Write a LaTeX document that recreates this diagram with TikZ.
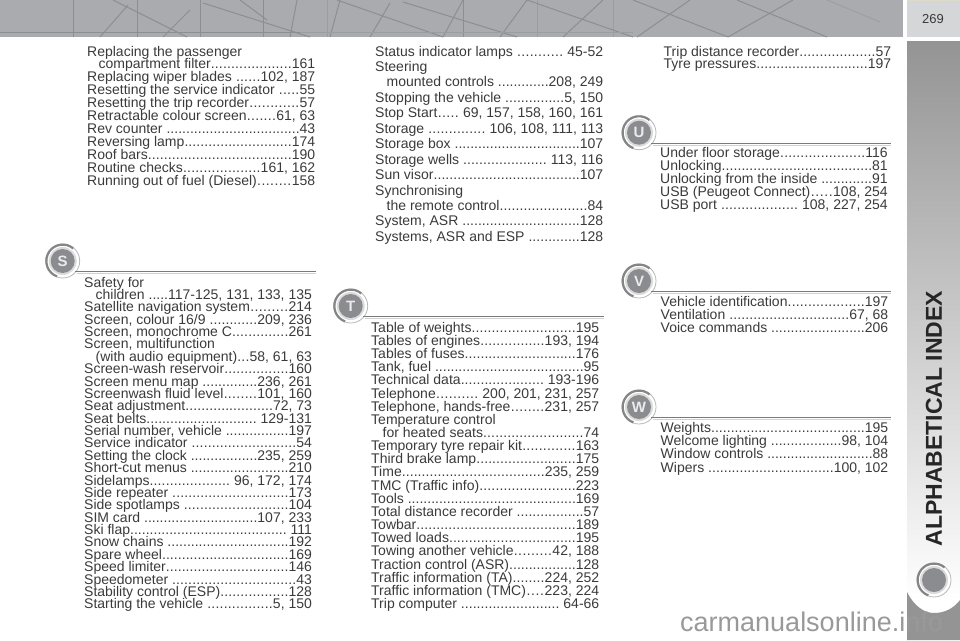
\documentclass[tikz,border=0pt]{standalone}
\usepackage{fontspec}
\setmainfont{Liberation Sans}
\usepackage{xcolor}
\definecolor{bandgray}{HTML}{A9ABAE}
\definecolor{linegray}{HTML}{8C8E91}
\definecolor{tabgray}{HTML}{D5D6D8}
\definecolor{diskgray}{HTML}{8B8C8F}
\definecolor{inkgray}{HTML}{3A3A3A}
\tikzset{
  entrytext/.style={anchor=base west,inner sep=0pt,text=inkgray,font=\fontsize{14}{14}\selectfont},
  badgedisk/.style={circle,fill=diskgray,minimum size=24pt,inner sep=0pt,text=black!8,font=\fontsize{15}{15}\selectfont\bfseries},
  bandline/.style={linegray,line width=1pt},
  faintline/.style={bandgray!50!linegray,line width=0.8pt},
  indexrule/.style={line width=1.5pt,black!52}
}
\newcommand{\ii}{\hspace*{11.5pt}}
\newcommand{\dotrun}{\xleaders\hbox to 3.9pt{\hss.\hss}\hfill}
\newcommand{\indexcol}[6]{
  \foreach \t/\p [count=\k] [evaluate=\k as \y using #4+#5*(\k-1)+5] in {#6}
  {
    \ifx\p\empty
      \node[entrytext] (#1\k) at (#2,\y) {\t};
    \else
      \pgfmathsetmacro{\w}{#3-#2}
      \node[entrytext] (#1\k) at (#2,\y) {\makebox[\w pt][l]{\t\dotrun\p}};
    \fi
  }
}
\newcommand{\badge}[4]{
  \fill[white] (#2,#3) circle (17);
  \draw[black!28,line width=0.8pt] (#2,#3) circle (17);
  \draw[black!48,line width=2.2pt] (#2,#3) ++(-50:16.4) arc[start angle=-50,end angle=-250,radius=16.4];
  \fill[black!14] (#2,#3) circle (14);
  \node[badgedisk] (badge#1) at (#2,#3) {#4};
}
\begin{document}
\begin{tikzpicture}[x=1pt,y=-1pt]
  \useasboundingbox (0,0) rectangle (960,640);

  \fill[bandgray] (0,0) rectangle (903,37);
  \foreach \x in {73,137,200,263,463}
    \draw[bandline] (\x,0) -- (\x,37);
  \foreach \x in {327,537,613}
    \draw[faintline] (\x,0) -- (\x,37);
  \foreach \a/\b/\c/\d in {128/5/100/37,190/10/163/37,113/0/187/37,203/3/310/37,240/0/267/20,
    297/0/290/37,340/0/330/37,390/3/370/37,337/0/443/37,403/2/517/37,463/0/443/37,527/0/500/37,
    527/0/633/37,603/0/563/37,633/0/728/37,690/0/637/37,737/0/827/37,793/0/728/37}
    \draw[bandline] (\a,\b) -- (\c,\d);
  \draw[faintline] (827,0) -- (880,22);
  \draw[bandline] (0,32) -- (300,32);
  \draw[faintline] (300,32) -- (633,32);

  \fill[tabgray] (907,0) rectangle (960,37);
  \fill[black!10!yellow!10!tabgray] (907,0) rectangle (960,1);
  \node[inner sep=0pt,text=inkgray,font=\fontsize{13}{13}\selectfont] (pageno) at (933,19) {269};

  \shade[top color=black!42,middle color=black!27,bottom color=white] (907,41) rectangle (960,600);
  \fill[black!42] (907,640) -- (907,592) .. controls (914,606) and (924,613) .. (934,613)
    .. controls (945,613) and (954,608) .. (960,600) -- (960,640) -- cycle;
  \node[rotate=90,inner sep=0pt,text=black!85,font=\fontsize{23}{23}\selectfont\bfseries] (sidetitle) at (934,418.5) {ALPHABETICAL INDEX};
  \badge{end}{934}{580}{}

  \foreach \l/\x/\y/\e in {S/62.7/261/315.5,T/350.7/306/603.5,U/639/132.7/891,V/639/281/891,W/639/407/891}
  {
    \badge{\l}{\x}{\y}{\l}
    \coordinate (end\l) at (\e,\y+10.7);
    \draw[indexrule] (\x+12,\y+10.7) -- (end\l);
    \draw[black!18,line width=0.6pt] (\x+14,\y+12.2) -- (\e,\y+12.2);
  }

  \indexcol{r}{87}{315}{51}{12.9}{
    {Replacing the passenger}/,
    {\ii compartment filter}/161,
    {Replacing wiper blades\ }/{102, 187},
    {Resetting the service indicator\ }/55,
    {Resetting the trip recorder}/57,
    {Retractable colour screen}/{61, 63},
    {Rev counter\ }/43,
    {Reversing lamp}/174,
    {Roof bars}/190,
    {Routine checks}/{161, 162},
    {Running out of fuel (Diesel)}/158}

  \indexcol{s}{84}{311.7}{282}{12.38}{
    {Safety for}/,
    {\ii children\ }/{117-125, 131, 133, 135},
    {Satellite navigation system}/214,
    {Screen, colour 16/9\ }/{209, 236},
    {Screen, monochrome C}/261,
    {Screen, multifunction}/,
    {\ii (with audio equipment)}/{58, 61, 63},
    {Screen-wash reservoir}/160,
    {Screen menu map\ }/{236, 261},
    {Screenwash fluid level}/{101, 160},
    {Seat adjustment}/{72, 73},
    {Seat belts}/{\ 129-131},
    {Serial number, vehicle\ }/197,
    {Service indicator\ }/54,
    {Setting the clock\ }/{235, 259},
    {Short-cut menus\ }/210,
    {Sidelamps}/{\ 96, 172, 174},
    {Side repeater\ }/173,
    {Side spotlamps\ }/104,
    {SIM card\ }/{107, 233},
    {Ski flap}/{\ 111},
    {Snow chains\ }/192,
    {Spare wheel}/169,
    {Speed limiter}/146,
    {Speedometer\ }/43,
    {Stability control (ESP)}/128,
    {Starting the vehicle\ }/{5, 150}}

  \indexcol{st}{375}{603}{51}{15.45}{
    {Status indicator lamps\ }/{\ 45-52},
    {Steering}/,
    {\ii mounted controls\ }/{208, 249},
    {Stopping the vehicle\ }/{5, 150},
    {Stop Start}/{\ 69, 157, 158, 160, 161},
    {Storage\ }/{\ 106, 108, 111, 113},
    {Storage box\ }/107,
    {Storage wells\ }/{\ 113, 116},
    {Sun visor}/107,
    {Synchronising}/,
    {\ii the remote control}/84,
    {System, ASR\ }/128,
    {Systems, ASR and ESP\ }/128}

  \indexcol{t}{371}{599}{327.3}{13.15}{
    {Table of weights}/195,
    {Tables of engines}/{193, 194},
    {Tables of fuses}/176,
    {Tank, fuel\ }/95,
    {Technical data}/{\ 193-196},
    {Telephone}/{\ 200, 201, 231, 257},
    {Telephone, hands-free}/{231, 257},
    {Temperature control}/,
    {\ii for heated seats}/74,
    {Temporary tyre repair kit}/163,
    {Third brake lamp}/175,
    {Time}/{235, 259},
    {TMC (Traffic info)}/223,
    {Tools\ }/169,
    {Total distance recorder\ }/57,
    {Towbar}/189,
    {Towed loads}/195,
    {Towing another vehicle}/{42, 188},
    {Traction control (ASR)}/128,
    {Traffic information (TA)}/{224, 252},
    {Traffic information (TMC)}/{223, 224},
    {Trip computer\ }/{\ 64-66}}

  \indexcol{tr}{663.5}{891}{51}{12.8}{
    {Trip distance recorder}/57,
    {Tyre pressures}/197}

  \indexcol{u}{660}{887.5}{152.7}{13}{
    {Under floor storage}/116,
    {Unlocking}/81,
    {Unlocking from the inside\ }/91,
    {USB (Peugeot Connect)}/{108, 254},
    {USB port\ }/{\ 108, 227, 254}}

  \indexcol{v}{660.5}{888}{301.7}{13}{
    {Vehicle identification}/197,
    {Ventilation\ }/{67, 68},
    {Voice commands\ }/206}

  \indexcol{w}{660.5}{888}{427.7}{13.1}{
    {Weights}/195,
    {Welcome lighting\ }/{98, 104},
    {Window controls\ }/88,
    {Wipers\ }/{100, 102}}

  \node[anchor=base west,inner sep=0pt,text=black!40,font=\fontsize{27}{27}\selectfont] (mark) at (680,631.7) {carmanualsonline.info};
\end{tikzpicture}
\end{document}
